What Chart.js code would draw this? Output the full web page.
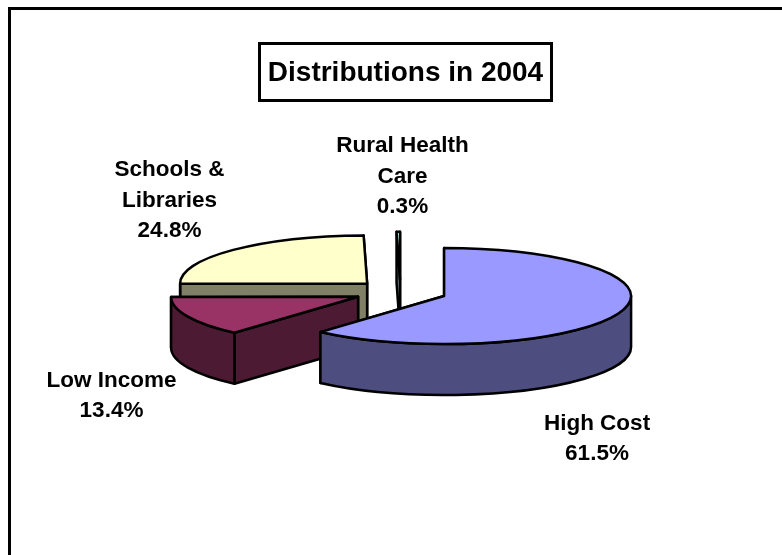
<!DOCTYPE html>
<html>
<head>
<meta charset="utf-8">
<title>Distributions in 2004</title>
<script src="https://cdn.jsdelivr.net/npm/chart.js@4"></script>
<style>
  html, body { margin: 0; padding: 0; background: #fff; overflow: hidden; }
  canvas { display: block; }
</style>
</head>
<body>
<canvas id="myChart" width="782" height="555"></canvas>
<script>
const titleText = "Distributions in 2004";
const categories = ["High Cost", "Low Income", "Schools & Libraries", "Rural Health Care"];
const shares = [61.5, 13.4, 24.8, 0.3];
const labelLines = [["High Cost"], ["Low Income"], ["Schools &", "Libraries"], ["Rural Health", "Care"]];

const topColors = ["#9999ff", "#993366", "#ffffcc", "#ccffff"];
const sideColors = ["#4d4d80", "#4d1a33", "#808066", "#668080"];

// label centre x and first line centre y, same order as categories
const labelX = [597, 111.5, 169.5, 402.5];
const labelY = [423.5, 380.5, 170, 146];
const lineGap = 30.5;

const tilt = 0.257;
const depth = 51;
const explode = 46.6;
const drawOrder = [2, 3, 1, 0]; // back to front

function rimPoint(c, a) {
  return [c.x + Math.cos(a) * c.r, c.y + Math.sin(a) * c.r * tilt];
}

function sliceGeometry(arc) {
  const mid = (arc.startAngle + arc.endAngle) / 2;
  return {
    x: arc.x + Math.cos(mid) * explode,
    y: arc.y + Math.sin(mid) * explode * tilt,
    r: arc.outerRadius,
    a0: arc.startAngle,
    a1: arc.endAngle,
  };
}

function cutFace(ctx, c, a) {
  const p = rimPoint(c, a);
  ctx.beginPath();
  ctx.moveTo(c.x, c.y);
  ctx.lineTo(p[0], p[1]);
  ctx.lineTo(p[0], p[1] + depth);
  ctx.lineTo(c.x, c.y + depth);
  ctx.closePath();
  ctx.fill();
  ctx.stroke();
}

const pie3d = {
  id: "pie3d",
  beforeDatasetDraw(chart) {
    const ctx = chart.ctx;
    const arcs = chart.getDatasetMeta(0).data;
    ctx.save();
    ctx.strokeStyle = "#000";
    ctx.lineWidth = 2.5;
    ctx.lineJoin = "round";
    for (let i of drawOrder) {
      const c = sliceGeometry(arcs[i]);
      const rx = c.r;
      const ry = c.r * tilt;

      ctx.fillStyle = sideColors[i];
      cutFace(ctx, c, c.a1);
      cutFace(ctx, c, c.a0);

      // outer wall, only the part that faces the viewer
      const w0 = Math.max(c.a0, 0);
      const w1 = Math.min(c.a1, Math.PI);
      if (w1 > w0) {
        ctx.beginPath();
        ctx.ellipse(c.x, c.y, rx, ry, 0, w0, w1);
        ctx.ellipse(c.x, c.y + depth, rx, ry, 0, w1, w0, true);
        ctx.closePath();
        ctx.fill();
        ctx.stroke();
      }

      ctx.fillStyle = topColors[i];
      ctx.beginPath();
      ctx.moveTo(c.x, c.y);
      ctx.ellipse(c.x, c.y, rx, ry, 0, c.a0, c.a1);
      ctx.closePath();
      ctx.fill();
      ctx.stroke();
    }
    ctx.restore();
    return false;
  },
  afterDraw(chart) {
    const ctx = chart.ctx;
    ctx.save();

    // slide frame, only top and left are on the page
    ctx.fillStyle = "#000";
    ctx.fillRect(8, 7, 774, 3);
    ctx.fillRect(8, 7, 3, 548);

    // title box
    ctx.strokeStyle = "#000";
    ctx.lineWidth = 3;
    ctx.strokeRect(259.5, 43.5, 292, 57);
    ctx.font = "bold 28px 'Liberation Sans'";
    ctx.textAlign = "center";
    ctx.textBaseline = "middle";
    ctx.fillText(titleText, 405.5, 73);

    // slice labels
    ctx.font = "bold 22.5px 'Liberation Sans'";
    categories.forEach((name, i) => {
      const lines = labelLines[i].concat(shares[i].toFixed(1) + "%");
      lines.forEach((line, n) => {
        ctx.fillText(line, labelX[i], labelY[i] + n * lineGap);
      });
    });
    ctx.restore();
  },
};

const ctx = document.getElementById("myChart");
const myChart = new Chart(ctx, {
  type: "pie",
  data: {
    labels: categories,
    datasets: [
      {
        data: shares,
        backgroundColor: topColors,
        borderColor: "#000",
      },
    ],
  },
  options: {
    responsive: false,
    animation: false,
    events: [],
    radius: 187,
    layout: { padding: { left: 19, top: 28.6 } },
    plugins: {
      legend: { display: false },
      title: { display: false },
      tooltip: { enabled: false },
    },
  },
  plugins: [pie3d],
});
</script>
</body>
</html>
